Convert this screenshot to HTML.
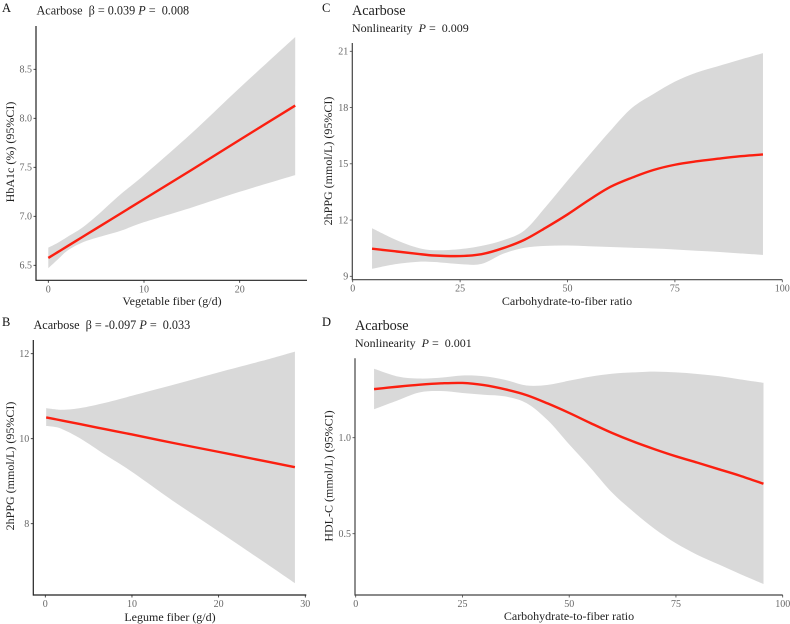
<!DOCTYPE html>
<html lang="en">
<head>
<meta charset="utf-8">
<title>Acarbose fiber spline charts</title>
<style>
html,body{margin:0;padding:0;background:#fff;}
svg{display:block;font-family:"Liberation Serif",serif;}
text{white-space:pre;}
</style>
</head>
<body>
<svg id="figure" xmlns="http://www.w3.org/2000/svg" width="790" height="624" viewBox="0 0 790 624">
<rect width="790" height="624" fill="#fff"/>
<text x="2" y="12" font-size="12.5" fill="#111">A</text>
<text x="36.5" y="14.5" font-size="12.2" fill="#222">Acarbose  β = 0.039 <tspan font-style="italic">P</tspan> =  0.008</text>
<text x="2" y="326" font-size="12.5" fill="#111">B</text>
<text x="33.5" y="329" font-size="12.2" fill="#222">Acarbose  β = -0.097 <tspan font-style="italic">P</tspan> =  0.033</text>
<text x="322" y="12" font-size="12.5" fill="#111">C</text>
<text x="352" y="15" font-size="14.2" fill="#222">Acarbose</text>
<text x="352" y="32" font-size="12" fill="#222">Nonlinearity  <tspan font-style="italic">P</tspan> =  0.009</text>
<text x="322" y="326" font-size="12.5" fill="#111">D</text>
<text x="355" y="330" font-size="14.2" fill="#222">Acarbose</text>
<text x="355" y="347" font-size="12" fill="#222">Nonlinearity  <tspan font-style="italic">P</tspan> =  0.001</text>
</svg>
<script>
// Panel A
const aX = [0, 1, 2, 3.5, 5, 7.5, 10, 15, 20, 25.8];
const aFit = [6.575, 6.635, 6.695, 6.785, 6.875, 7.025, 7.175, 7.475, 7.78, 8.13];
const aUpper = [6.68, 6.73, 6.79, 6.88, 7.0, 7.22, 7.42, 7.85, 8.31, 8.83];
const aLower = [6.47, 6.56, 6.65, 6.73, 6.78, 6.85, 6.94, 7.09, 7.25, 7.42];
const aXTicks = [0, 10, 20];
const aYTicks = [6.5, 7.0, 7.5, 8.0, 8.5];
const aYLabels = ["6.5", "7.0", "7.5", "8.0", "8.5"];

// Panel B
const bX = [0.1, 1, 2, 4, 7, 10, 15, 20, 25, 28.8];
const bFit = [10.5, 10.465, 10.425, 10.345, 10.22, 10.1, 9.89, 9.69, 9.485, 9.33];
const bUpper = [10.72, 10.695, 10.68, 10.72, 10.85, 11.01, 11.28, 11.56, 11.83, 12.05];
const bLower = [10.3, 10.28, 10.22, 10.01, 9.61, 9.22, 8.5, 7.82, 7.13, 6.6];
const bXTicks = [0, 10, 20, 30];
const bYTicks = [8, 10, 12];
const bYLabels = ["8", "10", "12"];

// Panel C
const cX = [4.5, 10, 15, 19, 25, 30, 35, 40, 45, 50, 55, 60, 65, 70, 75, 80, 85, 90, 95.5];
const cFit = [10.47, 10.33, 10.2, 10.11, 10.08, 10.18, 10.5, 10.95, 11.6, 12.3, 13.07, 13.77, 14.26, 14.67, 14.95, 15.13, 15.27, 15.4, 15.5];
const cUpper = [11.56, 10.95, 10.53, 10.39, 10.45, 10.62, 10.92, 11.45, 12.72, 14.1, 15.45, 16.77, 17.98, 18.72, 19.38, 19.86, 20.2, 20.54, 20.9];
const cLower = [9.4, 9.65, 9.77, 9.76, 9.65, 9.66, 10.2, 10.52, 10.62, 10.64, 10.6, 10.56, 10.52, 10.48, 10.43, 10.36, 10.3, 10.22, 10.14];
const cXTicks = [0, 25, 50, 75, 100];
const cYTicks = [9, 12, 15, 18, 21];
const cYLabels = ["9", "12", "15", "18", "21"];

// Panel D
const dX = [4.3, 10, 15, 20, 25, 30, 35, 40, 45, 50, 55, 60, 65, 70, 75, 80, 85, 90, 95.5];
const dFit = [1.253, 1.266, 1.276, 1.283, 1.285, 1.274, 1.252, 1.222, 1.178, 1.129, 1.076, 1.025, 0.98, 0.94, 0.903, 0.87, 0.836, 0.802, 0.76];
const dUpper = [1.359, 1.318, 1.308, 1.313, 1.324, 1.32, 1.301, 1.272, 1.275, 1.297, 1.318, 1.333, 1.34, 1.344, 1.34, 1.332, 1.321, 1.304, 1.286];
const dLower = [1.148, 1.196, 1.236, 1.243, 1.233, 1.224, 1.215, 1.18, 1.09, 0.965, 0.843, 0.715, 0.615, 0.525, 0.45, 0.39, 0.34, 0.29, 0.238];
const dXTicks = [0, 25, 50, 75, 100];
const dYTicks = [0.5, 1.0];
const dYLabels = ["0.5", "1.0"];

const SVG_NS = "http://www.w3.org/2000/svg";
const figure = document.getElementById("figure");

function linearScale(d0, d1, r0, r1) {
  return function (v) { return r0 + (v - d0) * (r1 - r0) / (d1 - d0); };
}

function make(tag, attrs, parent) {
  const el = document.createElementNS(SVG_NS, tag);
  Object.keys(attrs).forEach(function (k) { el.setAttribute(k, attrs[k]); });
  parent.appendChild(el);
  return el;
}

function smoothSegments(pts) {
  let d = "";
  for (let i = 0; i < pts.length - 1; i++) {
    const p0 = pts[Math.max(i - 1, 0)];
    const p1 = pts[i];
    const p2 = pts[i + 1];
    const p3 = pts[Math.min(i + 2, pts.length - 1)];
    const c1x = p1[0] + (p2[0] - p0[0]) / 6;
    const c1y = p1[1] + (p2[1] - p0[1]) / 6;
    const c2x = p2[0] - (p3[0] - p1[0]) / 6;
    const c2y = p2[1] - (p3[1] - p1[1]) / 6;
    d += "C" + c1x.toFixed(2) + " " + c1y.toFixed(2) + " " + c2x.toFixed(2) + " " + c2y.toFixed(2) + " " + p2[0].toFixed(2) + " " + p2[1].toFixed(2);
  }
  return d;
}

function drawPanel(key, box, xs, fit, upper, lower, xTicks, yTicks, yLabels, xTitle, yTitle) {
  const sx = linearScale(box.x0, box.x1, box.px0, box.px1);
  const sy = linearScale(box.y0, box.y1, box.py0, box.py1);
  const g = make("g", {}, figure);
  
  

  const up = xs.map(function (x, i) { return [sx(x), sy(upper[i])]; });
  const lo = xs.map(function (x, i) { return [sx(x), sy(lower[i])]; }).reverse();
  const band = make("path", {
    d: "M" + up[0][0] + " " + up[0][1] + smoothSegments(up) + "L" + lo[0][0] + " " + lo[0][1] + smoothSegments(lo) + "Z",
    fill: "#d9d9d9"
  }, g);
  
  

  const pts = xs.map(function (x, i) { return [sx(x), sy(fit[i])]; });
  const line = make("path", {
    d: "M" + pts[0][0] + " " + pts[0][1] + smoothSegments(pts),
    fill: "none", stroke: "#fb1f10", "stroke-width": 2.4
  }, g);
  
  

  const yAxis = make("line", { x1: box.left, x2: box.left, y1: box.top, y2: box.bottom + 0.6, stroke: box.axis, "stroke-width": 1.2 }, g);
  
  
  const xAxis = make("line", { x1: box.left, x2: box.right, y1: box.bottom, y2: box.bottom, stroke: box.axis, "stroke-width": 1.2 }, g);
  
  

  xTicks.forEach(function (t) {
    const tick = make("line", { x1: sx(t), x2: sx(t), y1: box.bottom, y2: box.bottom + 2.5, stroke: box.axis, "stroke-width": 0.8 }, g);
    
    
    const label = make("text", { x: sx(t), y: box.bottom + 12, "font-size": 10, fill: "#666", "text-anchor": "middle" }, g);
    label.textContent = String(t);
    
    
  });

  yTicks.forEach(function (t, i) {
    const tick = make("line", { x1: box.left - 2.5, x2: box.left, y1: sy(t), y2: sy(t), stroke: box.axis, "stroke-width": 0.8 }, g);
    
    
    const label = make("text", { x: box.left - 4, y: sy(t) + 3.4, "font-size": 10, fill: "#666", "text-anchor": "end" }, g);
    label.textContent = yLabels[i];
    
    
  });

  const xt = make("text", { x: box.xTitleX, y: box.xTitleY, "font-size": 12, fill: "#222", "text-anchor": "middle" }, g);
  xt.textContent = xTitle;
  
  

  const yt = make("text", { transform: "translate(" + box.yTitleX + " " + box.yTitleY + ") rotate(-90)", "font-size": 12, fill: "#222", "text-anchor": "middle" }, g);
  yt.textContent = yTitle;
  
  
}

drawPanel("a",
  { x0: 0, x1: 20, px0: 48.3, px1: 239.7, y0: 6.5, y1: 8.5, py0: 265.3, py1: 69.3, left: 36, right: 307, top: 26, bottom: 280.3, axis: "#222", xTitleX: 172, xTitleY: 305, yTitleX: 14, yTitleY: 152 },
  aX, aFit, aUpper, aLower, aXTicks, aYTicks, aYLabels, "Vegetable fiber (g/d)", "HbA1c (%) (95%CI)");

drawPanel("b",
  { x0: 0, x1: 30, px0: 45.3, px1: 305.3, y0: 8, y1: 12, py0: 523.7, py1: 353.7, left: 33.3, right: 306.3, top: 340, bottom: 595, axis: "#222", xTitleX: 170, xTitleY: 621, yTitleX: 14, yTitleY: 466 },
  bX, bFit, bUpper, bLower, bXTicks, bYTicks, bYLabels, "Legume fiber (g/d)", "2hPPG (mmol/L) (95%CI)");

drawPanel("c",
  { x0: 0, x1: 100, px0: 352.7, px1: 782.3, y0: 9, y1: 21, py0: 276.3, py1: 51.3, left: 352.3, right: 782.3, top: 43, bottom: 279.7, axis: "#444", xTitleX: 567, xTitleY: 305, yTitleX: 332, yTitleY: 161 },
  cX, cFit, cUpper, cLower, cXTicks, cYTicks, cYLabels, "Carbohydrate-to-fiber ratio", "2hPPG (mmol/L) (95%CI)");

drawPanel("d",
  { x0: 0, x1: 100, px0: 355.7, px1: 782.7, y0: 0.5, y1: 1.0, py0: 533.7, py1: 437.7, left: 355, right: 782.7, top: 358.3, bottom: 595, axis: "#444", xTitleX: 569, xTitleY: 620, yTitleX: 332.5, yTitleY: 476 },
  dX, dFit, dUpper, dLower, dXTicks, dYTicks, dYLabels, "Carbohydrate-to-fiber ratio", "HDL-C (mmol/L) (95%CI)");
</script>
</body>
</html>
